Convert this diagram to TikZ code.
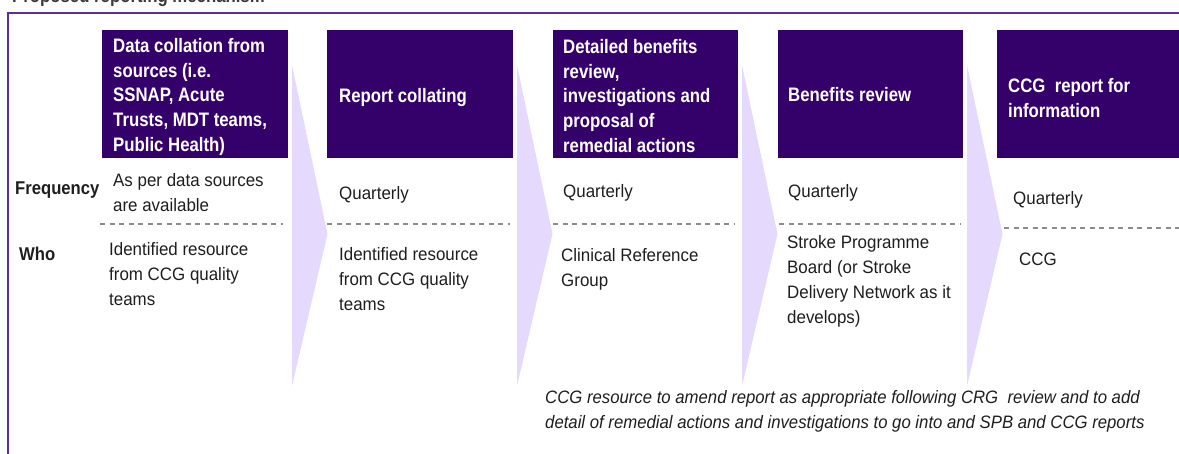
\documentclass[tikz,border=0pt]{standalone}
\usepackage{fontspec}
\setmainfont{Liberation Sans}[FakeStretch=0.94]
\newfontfamily\hdfont{Liberation Sans}[FakeStretch=0.86]
\newfontfamily\lbfont{Liberation Sans}[FakeStretch=0.90]
\newfontfamily\itfont{Liberation Sans}[FakeStretch=0.93]
\definecolor{boxpurple}{HTML}{34006A}
\definecolor{chev}{HTML}{E6D9FE}
\definecolor{frame}{HTML}{5E2E96}
\definecolor{dashgray}{HTML}{8C8C8C}
\definecolor{txt}{HTML}{1E1E1E}
\definecolor{titlegray}{HTML}{3A3A3A}
\begin{document}
\begin{tikzpicture}[x=1pt,y=-1pt,
  hdbox/.style={fill=boxpurple},
  chevron/.style={fill=chev},
  sep/.style={draw=dashgray,line width=1.1pt,dash pattern=on 5pt off 4.5pt},
  hdtext/.style={anchor=north west,inner sep=0pt,align=left,text=white,
    font=\hdfont\bfseries\fontsize{19.5}{24.8}\selectfont},
  lbtext/.style={anchor=north west,inner sep=0pt,align=left,text=txt,
    font=\lbfont\bfseries\fontsize{18.5}{25}\selectfont},
  body/.style={anchor=north west,inner sep=0pt,align=left,text=txt,
    font=\fontsize{18}{25}\selectfont},
  note/.style={anchor=north west,inner sep=0pt,align=left,text=txt,
    font=\itfont\itshape\fontsize{18}{25}\selectfont}]
\useasboundingbox (0,0) rectangle (1179,453);
\begin{scope}
\clip (0,0) rectangle (1179,453);
% title (cut off at top, as in the reference)
\node[anchor=base west,inner sep=0pt,text=titlegray,
  font=\hdfont\bfseries\fontsize{19.5}{24}\selectfont] (title) at (12,2)
  {Proposed reporting mechanism};
% frame
\draw[frame,line width=2pt] (8,455) -- (8,13) -- (1182,13);
% chevrons
\foreach \L in {292,517,742,967}{
  \fill[chevron] (\L,65) -- (\L+35.5,234) -- (\L,386) -- cycle;
}
% header boxes
\fill[hdbox] (102,30) rectangle (288,158);
\fill[hdbox] (327,30) rectangle (513,158);
\fill[hdbox] (553,30) rectangle (738,158);
\fill[hdbox] (778,30) rectangle (963,158);
\fill[hdbox] (997,30) rectangle (1182,158);
% dashed separators
\draw[sep] (100,224) -- (283,224);
\draw[sep] (327,224) -- (510,224);
\draw[sep] (553,224) -- (735,224);
\draw[sep] (779,224) -- (960,224);
\draw[sep] (1004,228) -- (1182,228);
\end{scope}
% header texts
\node[hdtext] (h1) at (113,38) {Data collation from\\sources (i.e.\\SSNAP, Acute\\Trusts, MDT teams,\\Public Health)};
\node[hdtext] (h2) at (339,88) {Report collating};
\node[hdtext] (h3) at (563,39) {Detailed benefits\\review,\\investigations and\\proposal of\\remedial actions};
\node[hdtext] (h4) at (788,87) {Benefits review};
\node[hdtext] (h5) at (1008,78) {CCG~ report for\\information};
% row labels
\node[lbtext] (freq) at (15,182) {Frequency};
\node[lbtext] (who) at (19,247) {Who};
% column contents
\node[body] (c1f) at (113,173) {As per data sources\\are available};
\node[body] (c1w) at (109,242) {Identified resource\\from CCG quality\\teams};
\node[body] (c2f) at (339,186) {Quarterly};
\node[body] (c2w) at (339,247) {Identified resource\\from CCG quality\\teams};
\node[body] (c3f) at (563,184) {Quarterly};
\node[body] (c3w) at (561,248) {Clinical Reference\\Group};
\node[body] (c4f) at (788,184) {Quarterly};
\node[body] (c4w) at (787,235) {Stroke Programme\\Board (or Stroke\\Delivery Network as it\\develops)};
\node[body] (c5f) at (1013,191) {Quarterly};
\node[body] (c5w) at (1019,253) {CCG};
% note
\node[note] (nt) at (545,390) {CCG resource to amend report as appropriate following CRG~ review and to add\\detail of remedial actions and investigations to go into and SPB and CCG reports};
\end{tikzpicture}
\end{document}
